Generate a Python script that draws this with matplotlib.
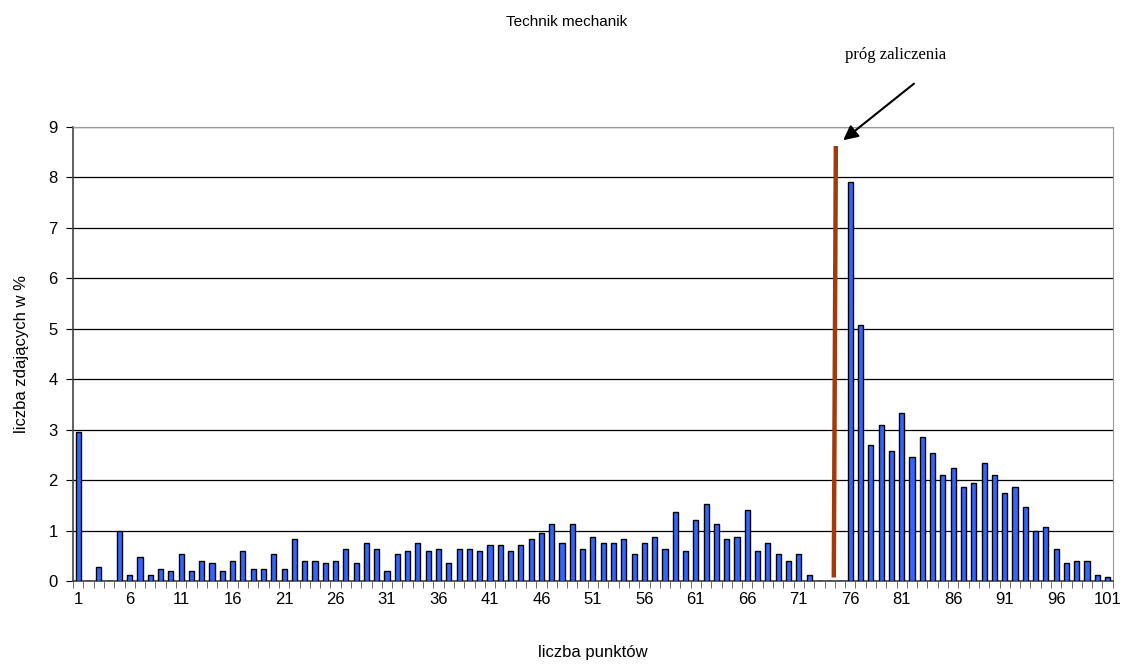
import numpy as np
import matplotlib
matplotlib.use("Agg")
import matplotlib.pyplot as plt

# liczba punktow 1..101, procent zdajacych
punkty = np.arange(1, 102)
procent = [2.96, 0, 0.28, 0, 1.0, 0.12, 0.48, 0.12, 0.24, 0.2,
           0.53, 0.2, 0.4, 0.36, 0.2, 0.4, 0.6, 0.24, 0.24, 0.53,
           0.24, 0.84, 0.4, 0.4, 0.36, 0.4, 0.64, 0.36, 0.76, 0.64,
           0.2, 0.53, 0.6, 0.76, 0.6, 0.64, 0.36, 0.64, 0.64, 0.6,
           0.72, 0.72, 0.6, 0.72, 0.84, 0.96, 1.12, 0.76, 1.12, 0.64,
           0.88, 0.76, 0.76, 0.84, 0.53, 0.76, 0.88, 0.64, 1.36, 0.6,
           1.2, 1.52, 1.12, 0.84, 0.88, 1.4, 0.6, 0.76, 0.53, 0.4,
           0.53, 0.12, 0, 0, 0, 7.91, 5.07, 2.70, 3.10, 2.58,
           3.33, 2.46, 2.86, 2.54, 2.11, 2.23, 1.87, 1.95, 2.34, 2.11,
           1.75, 1.87, 1.47, 0.99, 1.07, 0.64, 0.36, 0.40, 0.40, 0.12,
           0.08]
etykiety = [str(i) for i in range(1, 102, 5)]
prog_x = [74.4, 74.6]
prog_y = [0.07, 8.62]

plt.rcParams['font.family'] = ['Liberation Sans', 'DejaVu Sans']

fig = plt.figure(figsize=(11.24, 6.64), dpi=100)
ax = fig.add_axes([0.065, 0.125, 0.925, 0.684])

ax.bar(punkty, procent, width=0.5, color='#3366ff', edgecolor='black', linewidth=1.0, zorder=3)
ax.plot(prog_x, prog_y, color='#a33a0b', linewidth=3.2, solid_capstyle='butt', zorder=4)

ax.set_xlim(0.5, 101.5)
ax.set_ylim(0, 9)
ax.set_yticks(range(0, 10))
ax.yaxis.grid(True, color='black', linewidth=0.9, zorder=0)

ax.set_xticks(np.arange(1, 102, 5))
ax.set_xticklabels(etykiety)
ax.set_xticks(np.arange(0.5, 102, 1), minor=True)
ax.tick_params(axis='x', which='major', length=0, pad=8, labelsize=12)
ax.tick_params(axis='x', which='minor', length=5, color='#555555')
ax.tick_params(axis='y', length=5, labelsize=12, pad=6)

for s in ['top', 'right']:
    ax.spines[s].set_color('#999999')
for s in ['left', 'bottom']:
    ax.spines[s].set_color('#444444')
    ax.spines[s].set_linewidth(1.2)

ax.set_xlabel('liczba punktów', fontsize=12, labelpad=27)
ax.set_ylabel('liczba zdających w %', fontsize=12, labelpad=14)
fig.text(567 / 1124, 1 - 22 / 664, 'Technik mechanik', ha='center', va='center', fontsize=11)

ax.annotate('', xy=(75.1, 8.70), xytext=(82.4, 9.89), annotation_clip=False,
            arrowprops=dict(arrowstyle='-|>', color='black', lw=1.5, mutation_scale=22))
ax.text(80.4, 10.43, 'próg zaliczenia', ha='center', va='center', fontsize=12,
        family=['Liberation Serif', 'DejaVu Serif'], clip_on=False)

fig.savefig('out.png', dpi=100)
